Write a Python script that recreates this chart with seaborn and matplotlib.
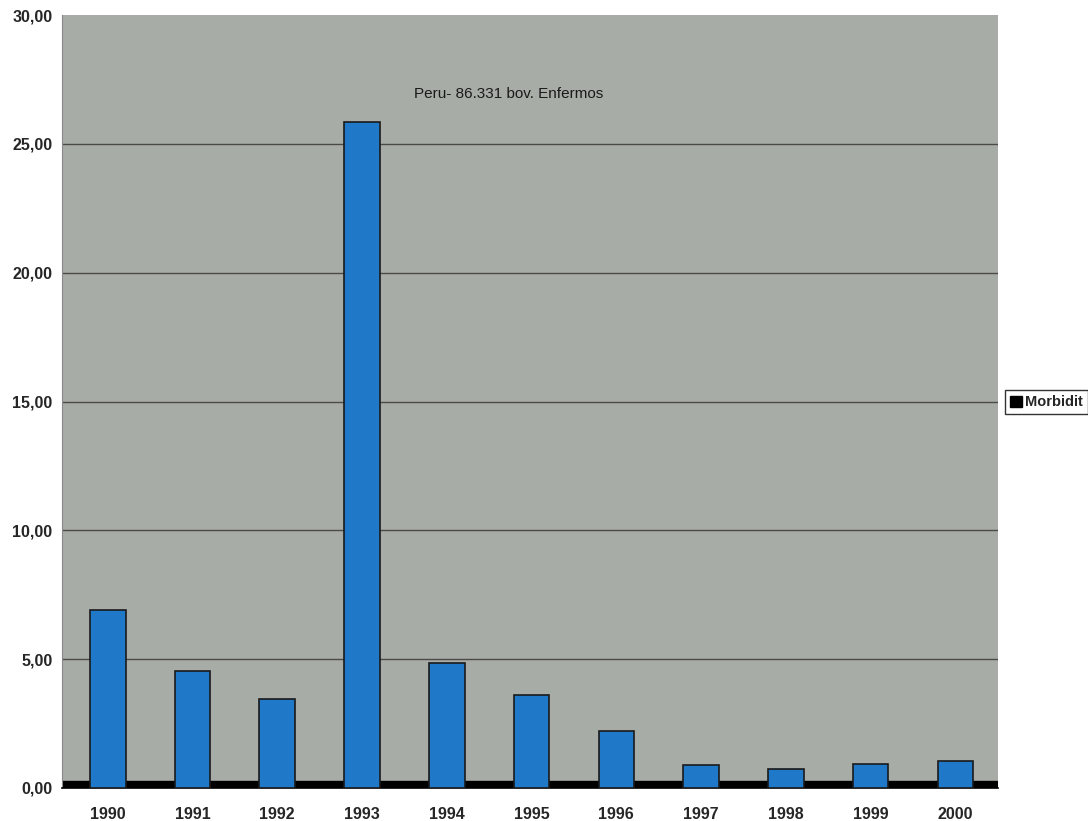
import matplotlib
matplotlib.use("Agg")
import matplotlib.pyplot as plt
import seaborn as sns
import numpy as np
from matplotlib.patches import Patch

years = ["1990", "1991", "1992", "1993", "1994", "1995", "1996", "1997", "1998", "1999", "2000"]
values = [6.9, 4.55, 3.45, 25.85, 4.85, 3.6, 2.2, 0.88, 0.72, 0.92, 1.03]
yticks = [0, 5, 10, 15, 20, 25, 30]
ytick_labels = ["0,00", "5,00", "10,00", "15,00", "20,00", "25,00", "30,00"]
title = "Peru- 86.331 bov. Enfermos"
legend_label = "Morbidit"

sns.set_style("white")
plt.rcParams['font.family'] = ['Liberation Sans', 'DejaVu Sans']

fig = plt.figure(figsize=(10.88, 8.21), dpi=100)
ax = fig.add_axes([0.057, 0.0402, 0.86, 0.9415])
ax.set_facecolor("#a8aca6")

sns.barplot(x=years, y=values, color="#1f78c8", edgecolor="#1a1a1a", linewidth=1.2,
            width=0.42, saturation=1, ax=ax, zorder=3)

ax.set_xlim(-0.54, len(years) - 0.5)
ax.set_ylim(0, 30)
ax.axhspan(0, 0.28, color="black", zorder=2)
for y in yticks[1:-1]:
    ax.axhline(y, color="#4a4a48", linewidth=1.0, zorder=1)

ax.set_yticks(yticks)
ax.set_yticklabels(ytick_labels, fontsize=11.5, fontweight="bold")
ax.tick_params(axis="y", length=4, width=0.8, color="black", pad=3)
ax.set_xticks(range(len(years)))
ax.set_xticklabels(years, fontsize=11.5, fontweight="bold")
ax.tick_params(axis="x", which="major", length=0, pad=14)
ax.set_xticks(np.arange(0.5, len(years) - 0.5, 1), minor=True)
ax.tick_params(axis="x", which="minor", length=5, width=0.8, color="black")
ax.set_xlabel("")
ax.set_ylabel("")

for s in ["top", "right"]:
    ax.spines[s].set_visible(False)
ax.spines["left"].set_color("#888888")
ax.spines["left"].set_linewidth(0.8)
ax.spines["bottom"].set_color("black")
ax.spines["bottom"].set_linewidth(1.2)

ax.text(4.73, 26.95, title, ha="center", va="center", fontsize=11, color="#1a1a1a")

handle = Patch(facecolor="black", edgecolor="black")
leg = fig.legend([handle], [legend_label], loc="center left", bbox_to_anchor=(0.921, 0.51),
                 frameon=True, fancybox=False, edgecolor="black", prop={"size": 10.5, "weight": "bold"},
                 handlelength=0.8, handleheight=0.8, handletextpad=0.25, borderpad=0.35,
                 borderaxespad=0.2)

fig.savefig("out.png", dpi=100)
